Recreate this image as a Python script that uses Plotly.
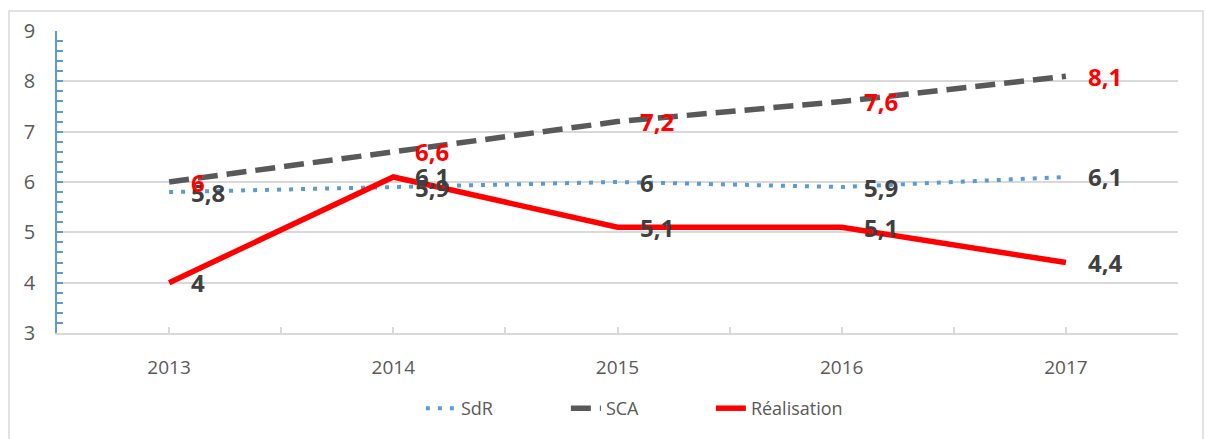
import plotly.graph_objects as go

years = [2013, 2014, 2015, 2016, 2017]
sdr = [5.8, 5.9, 6.0, 5.9, 6.1]
sca = [6.0, 6.6, 7.2, 7.6, 8.1]
real = [4.0, 6.1, 5.1, 5.1, 4.4]
y_ticks = [3, 4, 5, 6, 7, 8, 9]


def fmt(v):
    s = ("%g" % v)
    return s.replace(".", ",")


FONT = "Open Sans, Noto Sans, sans-serif"

fig = go.Figure()
fig.add_trace(go.Scatter(x=years, y=sdr, name="SdR", mode="lines",
                         line=dict(color="#5B9BD5", width=4, dash="4px,8px")))
fig.add_trace(go.Scatter(x=years, y=sca, name="SCA", mode="lines",
                         line=dict(color="#595959", width=5.5, dash="20px,9px")))
fig.add_trace(go.Scatter(x=years, y=real, name="Réalisation", mode="lines",
                         line=dict(color="#FF0000", width=5.5)))

for series, col in ((sdr, "#404040"), (sca, "#FF0000"), (real, "#404040")):
    for x, v in zip(years, series):
        fig.add_annotation(x=x, y=v, xref="x", yref="y", text="<b>%s</b>" % fmt(v),
                           showarrow=False, xanchor="left", yanchor="middle",
                           xshift=20, yshift=0, font=dict(color=col, family=FONT, size=24))

# outer chart border
fig.add_shape(type="rect", xref="paper", yref="paper",
              x0=-0.0428, x1=1.0223, y0=-0.36, y1=1.066,
              line=dict(color="#D9D9D9", width=1.5), fillcolor="rgba(0,0,0,0)")

fig.update_layout(
    width=1206, height=439,
    margin=dict(l=57, r=28, t=31, b=106),
    paper_bgcolor="white", plot_bgcolor="white",
    font=dict(family=FONT, color="#595959", size=18),
    showlegend=True,
    legend=dict(orientation="h", x=0.3246, xanchor="left", y=-0.25, yanchor="middle",
                font=dict(size=18, color="#595959"), entrywidth=100, entrywidthmode="pixels"),
)
fig.update_xaxes(range=[2012.5, 2017.5], tickvals=years, ticktext=[str(y) for y in years],
                 showgrid=False, zeroline=False, showline=True, linecolor="#D9D9D9", linewidth=1.5,
                 ticks="inside", ticklen=6, tickcolor="#D9D9D9", tickwidth=1.5,
                 minor=dict(ticks="inside", ticklen=6, tickcolor="#D9D9D9", tick0=2012.5, dtick=1),
                 tickfont=dict(size=19, color="#595959"), ticklabelstandoff=16)
fig.update_yaxes(range=[3, 9], tickvals=y_ticks, showgrid=True, gridcolor="#D9D9D9", gridwidth=1.5,
                 zeroline=False, showline=True, linecolor="#5B9BD5", linewidth=1.5,
                 ticks="inside", ticklen=6, tickcolor="#5B9BD5", tickwidth=1.5,
                 minor=dict(ticks="inside", ticklen=6, tickcolor="#5B9BD5", dtick=0.2, showgrid=False),
                 tickfont=dict(size=20, color="#595959"), ticklabelstandoff=16)

fig.write_html("out.html", config={"displayModeBar": False},
               post_script="document.body.style.margin='0';")
